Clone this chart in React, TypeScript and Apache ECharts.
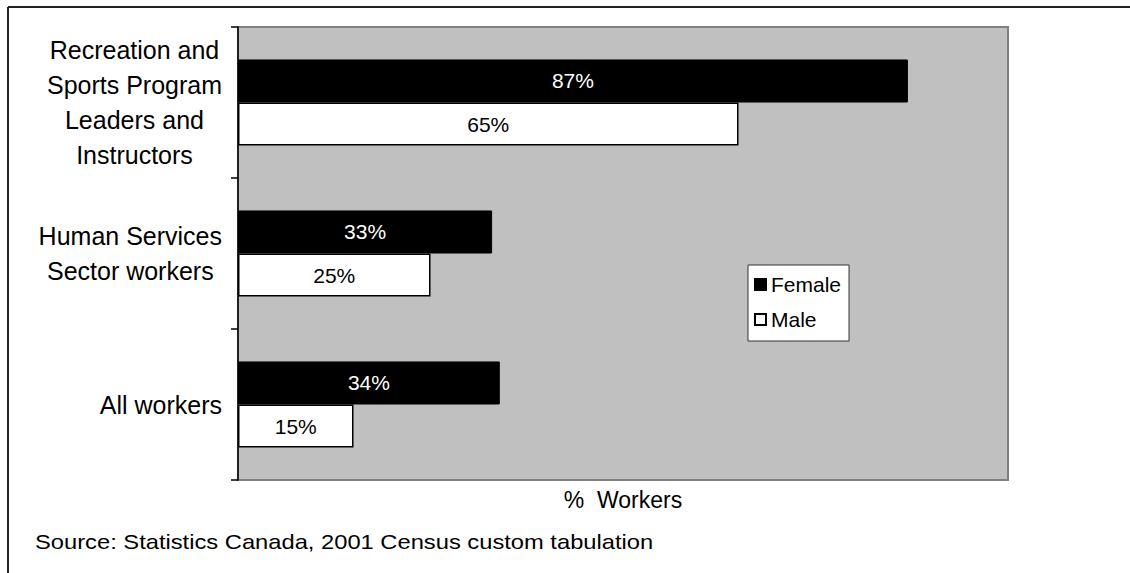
import React, { useEffect, useRef } from "react";
import * as echarts from "echarts";

// Occupation groups, listed top to bottom
const categories: string[] = [
  "Recreation and\nSports Program\nLeaders and\nInstructors",
  "Human Services\nSector workers",
  "All workers",
];

// Share of workers (%) per group
const femaleValues: number[] = [87, 33, 34];
const maleValues: number[] = [65, 25, 15];

const seriesNames: string[] = ["Female", "Male"];
const axisTitle = "%  Workers";
const sourceNote = "Source: Statistics Canada, 2001 Census custom tabulation";

const FONT = "'Liberation Sans', Arial, Helvetica, sans-serif";

export default function App() {
  const ref = useRef<HTMLDivElement>(null);

  useEffect(() => {
    if (!ref.current) return;
    const chart = echarts.init(ref.current, undefined, { renderer: "svg" });

    chart.setOption({
      animation: false,
      backgroundColor: "#ffffff",
      textStyle: { fontFamily: FONT },
      grid: {
        left: 238,
        top: 27,
        right: 122,
        bottom: 93,
        show: true,
        backgroundColor: "#c0c0c0",
        borderColor: "#808080",
        borderWidth: 2,
      },
      xAxis: {
        type: "value",
        min: 0,
        max: 100,
        axisLabel: { show: false },
        axisTick: { show: false },
        splitLine: { show: false },
        axisLine: { show: false },
        name: axisTitle,
        nameLocation: "middle",
        nameGap: 8,
        nameTextStyle: { fontSize: 23, color: "#000", fontFamily: FONT },
      },
      yAxis: {
        type: "category",
        inverse: true,
        data: categories,
        axisLine: { show: true, lineStyle: { color: "#000", width: 1.5 } },
        axisTick: { show: true, length: 7, lineStyle: { color: "#000", width: 1.5 } },
        axisLabel: {
          color: "#000",
          margin: 16,
          align: "right",
          fontSize: 25,
          lineHeight: 35,
          fontFamily: FONT,
          // each line centred inside the right-aligned label block
          formatter: (v: string) =>
            v
              .split("\n")
              .map((line) => `{c|${line}}`)
              .join("\n"),
          rich: {
            c: {
              align: "center",
              fontSize: 25,
              lineHeight: 35,
              color: "#000",
              fontFamily: FONT,
            },
          },
        },
      },
      legend: {
        orient: "vertical",
        left: 748,
        top: 265,
        data: seriesNames,
        icon: "rect",
        itemWidth: 11,
        itemHeight: 11,
        itemGap: 14,
        padding: [9, 8, 11, 6],
        backgroundColor: "#ffffff",
        borderColor: "#333333",
        borderWidth: 1,
        textStyle: { fontSize: 21, color: "#000", fontFamily: FONT },
      },
      series: [
        {
          name: seriesNames[0],
          type: "bar",
          data: femaleValues,
          barGap: "0%",
          barCategoryGap: "43%",
          itemStyle: { color: "#000000", borderColor: "#000000", borderWidth: 1 },
          label: {
            show: true,
            position: "inside",
            formatter: "{c}%",
            color: "#ffffff",
            fontSize: 21,
            fontFamily: FONT,
          },
        },
        {
          name: seriesNames[1],
          type: "bar",
          data: maleValues,
          barGap: "0%",
          barCategoryGap: "43%",
          itemStyle: { color: "#ffffff", borderColor: "#000000", borderWidth: 1.5 },
          label: {
            show: true,
            position: "inside",
            formatter: "{c}%",
            color: "#000000",
            fontSize: 21,
            fontFamily: FONT,
          },
        },
      ],
      graphic: [
        {
          type: "line",
          shape: { x1: 8, y1: 7, x2: 1130, y2: 7 },
          style: { stroke: "#222", lineWidth: 2 },
        },
        {
          type: "line",
          shape: { x1: 8, y1: 7, x2: 8, y2: 573 },
          style: { stroke: "#222", lineWidth: 2 },
        },
        {
          type: "text",
          x: 35,
          y: 542,
          scaleX: 1.13,
          style: {
            text: sourceNote,
            fontSize: 21,
            fill: "#000",
            fontFamily: FONT,
            verticalAlign: "middle",
          },
        },
      ],
    });

    return () => chart.dispose();
  }, []);

  return (
    <div
      ref={ref}
      style={{ position: "fixed", left: 0, top: 0, width: 1130, height: 573 }}
    />
  );
}
